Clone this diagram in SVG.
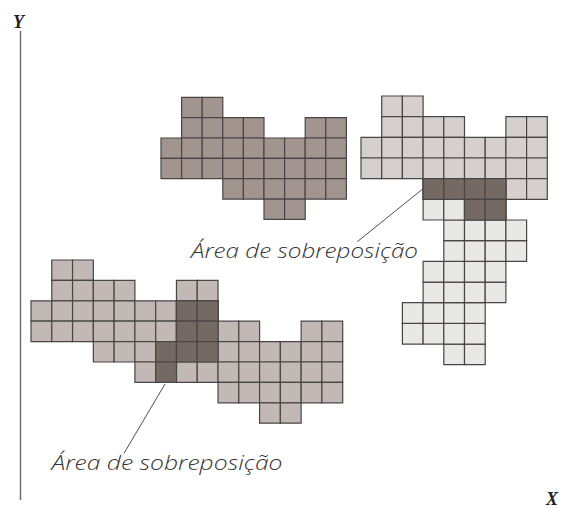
<svg xmlns="http://www.w3.org/2000/svg" xmlns:xlink="http://www.w3.org/1999/xlink" width="563" height="508" viewBox="0 0 563 508">
  <style>
    .cell { stroke: #4a4545; stroke-width: 1.2; vector-effect: non-scaling-stroke; }
    .ov { fill: #756a63; }
    .lbl { font-family: "Open Sans", "DejaVu Sans", sans-serif; font-weight: 300; font-style: italic; font-size: 20px; fill: #333; }
    .ax { font-family: "Liberation Serif", serif; font-weight: bold; font-style: italic; font-size: 18px; fill: #222; text-anchor: middle; }
    .lead { stroke: #3a3a3a; stroke-width: 0.9; fill: none; }
  </style>
  <defs>
    <g id="blob">
      <rect class="cell" x="1" y="0" width="1" height="1"/><rect class="cell" x="2" y="0" width="1" height="1"/>
      <rect class="cell" x="1" y="1" width="1" height="1"/><rect class="cell" x="2" y="1" width="1" height="1"/><rect class="cell" x="3" y="1" width="1" height="1"/><rect class="cell" x="4" y="1" width="1" height="1"/><rect class="cell" x="7" y="1" width="1" height="1"/><rect class="cell" x="8" y="1" width="1" height="1"/>
      <rect class="cell" x="0" y="2" width="1" height="1"/><rect class="cell" x="1" y="2" width="1" height="1"/><rect class="cell" x="2" y="2" width="1" height="1"/><rect class="cell" x="3" y="2" width="1" height="1"/><rect class="cell" x="4" y="2" width="1" height="1"/><rect class="cell" x="5" y="2" width="1" height="1"/><rect class="cell" x="6" y="2" width="1" height="1"/><rect class="cell" x="7" y="2" width="1" height="1"/><rect class="cell" x="8" y="2" width="1" height="1"/>
      <rect class="cell" x="0" y="3" width="1" height="1"/><rect class="cell" x="1" y="3" width="1" height="1"/><rect class="cell" x="2" y="3" width="1" height="1"/><rect class="cell" x="3" y="3" width="1" height="1"/><rect class="cell" x="4" y="3" width="1" height="1"/><rect class="cell" x="5" y="3" width="1" height="1"/><rect class="cell" x="6" y="3" width="1" height="1"/><rect class="cell" x="7" y="3" width="1" height="1"/><rect class="cell" x="8" y="3" width="1" height="1"/>
      <rect class="cell" x="3" y="4" width="1" height="1"/><rect class="cell" x="4" y="4" width="1" height="1"/><rect class="cell" x="5" y="4" width="1" height="1"/><rect class="cell" x="6" y="4" width="1" height="1"/><rect class="cell" x="7" y="4" width="1" height="1"/><rect class="cell" x="8" y="4" width="1" height="1"/>
      <rect class="cell" x="5" y="5" width="1" height="1"/><rect class="cell" x="6" y="5" width="1" height="1"/>
    </g>
  </defs>

  <g id="connectors">
    <line class="lead" x1="20.5" y1="31" x2="20.5" y2="500" style="stroke:#6a6a6a;stroke-width:1.4"/>
    <line class="lead" x1="422.7" y1="189" x2="357.3" y2="241.7"/>
    <line class="lead" x1="165" y1="384" x2="124" y2="453.3"/>
  </g>

  <g id="shape-top-middle" transform="translate(161,97.3) scale(20.6,20.35)">
    <use xlink:href="#blob" href="#blob" fill="#a2958f"/>
  </g>

  <g id="shape-top-right" transform="translate(361,96) scale(20.7,20.67)">
    <use xlink:href="#blob" href="#blob" fill="#d5d0cd"/>
    <use xlink:href="#blob" href="#blob" fill="#e8e8e5" transform="matrix(0,-1,1,0,2,13)"/>
    <rect class="cell ov" x="3" y="4" width="1" height="1"/><rect class="cell ov" x="4" y="4" width="1" height="1"/><rect class="cell ov" x="5" y="4" width="1" height="1"/><rect class="cell ov" x="6" y="4" width="1" height="1"/>
    <rect class="cell ov" x="5" y="5" width="1" height="1"/><rect class="cell ov" x="6" y="5" width="1" height="1"/>
  </g>

  <g id="shape-bottom-left" transform="translate(31,260) scale(20.78,20.4)">
    <use xlink:href="#blob" href="#blob" fill="#c2b9b7"/>
    <use xlink:href="#blob" href="#blob" fill="#c2b9b7" transform="translate(6,2)"/>
    <rect class="cell ov" x="7" y="2" width="1" height="1"/><rect class="cell ov" x="8" y="2" width="1" height="1"/>
    <rect class="cell ov" x="7" y="3" width="1" height="1"/><rect class="cell ov" x="8" y="3" width="1" height="1"/>
    <rect class="cell ov" x="6" y="4" width="1" height="1"/><rect class="cell ov" x="7" y="4" width="1" height="1"/><rect class="cell ov" x="8" y="4" width="1" height="1"/>
    <rect class="cell ov" x="6" y="5" width="1" height="1"/>
  </g>

  <g id="label-top">
    <text class="lbl" x="191" y="258" textLength="227" lengthAdjust="spacingAndGlyphs">Área de sobreposição</text>
  </g>
  <g id="label-bottom">
    <text class="lbl" x="51.5" y="469.5" textLength="231" lengthAdjust="spacingAndGlyphs">Área de sobreposição</text>
  </g>
  <g id="axis-y-label">
    <text class="ax" x="18.5" y="28">Y</text>
  </g>
  <g id="axis-x-label">
    <text class="ax" x="552" y="505">X</text>
  </g>
</svg>
